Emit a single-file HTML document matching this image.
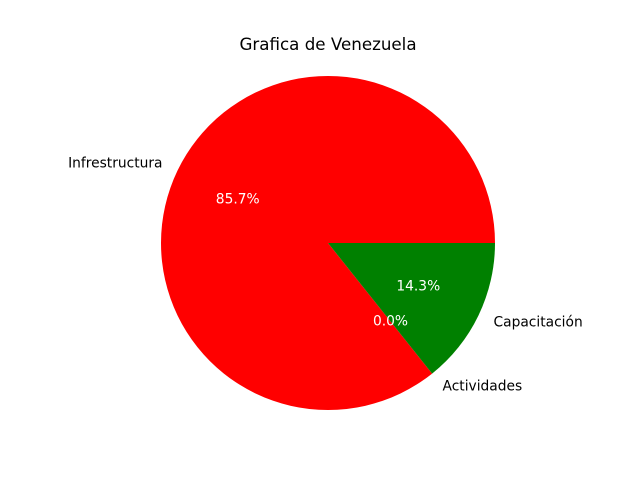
<!DOCTYPE html>
<html><head><meta charset="utf-8"><style>
html,body{margin:0;padding:0;background:#fff;}
svg{display:block;font-family:"DejaVu Sans","Liberation Sans",sans-serif;}
</style></head><body>
<svg id="chart" width="640" height="480" viewBox="0 0 640 480">
<rect width="640" height="480" fill="#fff"/>
<text x="328" y="50" font-size="16.7" text-anchor="middle" fill="#000">Grafica de Venezuela</text>
<g id="slices"></g><g id="labels"></g>
</svg>
<script>
const categories = ["Infrestructura", "Actividades", "Capacitación"];
const values = [6, 0, 1];
const colors = ["#ff0000", "#0000ff", "#008000"];
const cx = 328, cy = 243, r = 167;
const NS = "http://www.w3.org/2000/svg";
const total = values.reduce((a, b) => a + b, 0);
const gS = document.getElementById("slices"), gL = document.getElementById("labels");
function pt(angDeg, rad) { const a = angDeg * Math.PI / 180; return [cx + rad * Math.cos(a), cy - rad * Math.sin(a)]; }
let start = 0;
values.forEach((v, i) => {
  const frac = v / total, sweep = frac * 360, end = start + sweep;
  if (sweep > 0) {
    const p = document.createElementNS(NS, "path");
    const [x1, y1] = pt(start, r), [x2, y2] = pt(end, r);
    let d;
    if (sweep >= 359.999) d = `M${cx + r},${cy} A${r},${r} 0 1 0 ${cx - r},${cy} A${r},${r} 0 1 0 ${cx + r},${cy}Z`;
    else d = `M${cx},${cy} L${x1},${y1} A${r},${r} 0 ${sweep > 180 ? 1 : 0} 0 ${x2},${y2} Z`;
    p.setAttribute("d", d);
    p.setAttribute("fill", colors[i]);
    
    
    gS.appendChild(p);
  }
  const mid = start + sweep / 2;
  const [lx, ly] = pt(mid, r * 1.1);
  const t = document.createElementNS(NS, "text");
  t.setAttribute("x", lx); t.setAttribute("y", ly + 4);
  t.setAttribute("font-size", "13.8");
  t.setAttribute("text-anchor", Math.cos(mid * Math.PI / 180) < 0 ? "end" : "start");
  t.textContent = categories[i];
  
  
  gL.appendChild(t);
  const [px, py] = pt(mid, r * 0.6);
  const tp = document.createElementNS(NS, "text");
  tp.setAttribute("x", px); tp.setAttribute("y", py + 4);
  tp.setAttribute("font-size", "13.8"); tp.setAttribute("fill", "#fff");
  tp.setAttribute("text-anchor", "middle");
  tp.textContent = (frac * 100).toFixed(1) + "%";
  
  
  gL.appendChild(tp);
  start = end;
});
</script>
</body></html>
